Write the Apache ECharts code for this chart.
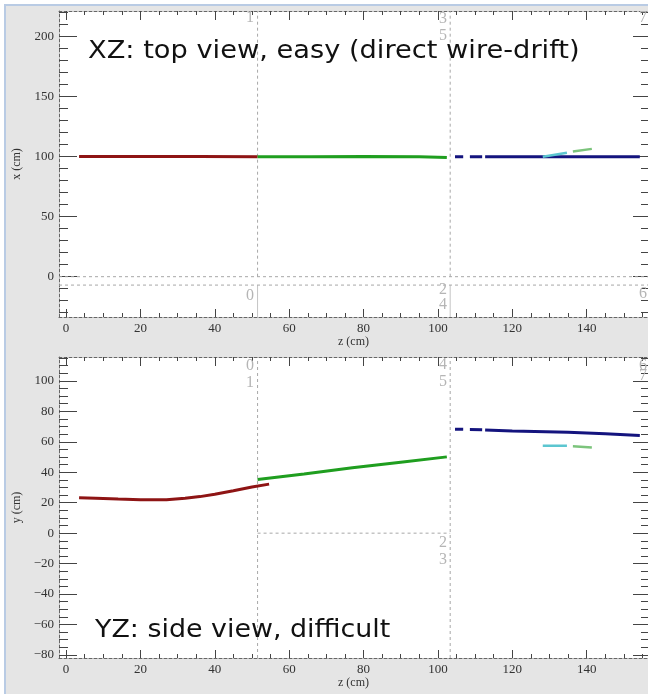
<!DOCTYPE html>
<html><head><meta charset="utf-8">
<script src="https://cdn.jsdelivr.net/npm/echarts@6/dist/echarts.min.js"></script>
<style>html,body{margin:0;padding:0;background:#fff}#c{width:648px;height:694px}</style>
</head><body><div id="c"></div>
<script>
// ---- axis ranges & ticks ----
const zRange = [-1.9, 156.5];
const xRange = [-33.6, 221.4];
const yRange = [-82, 115.7];
const zMajor = [0, 20, 40, 60, 80, 100, 120, 140];
const zMinor = [5,10,15,25,30,35,45,50,55,65,70,75,85,90,95,105,110,115,125,130,135,145,150,155];
const xMajor = [0, 50, 100, 150, 200];
const xMinor = [-30,-20,-10,10,20,30,40,60,70,80,90,110,120,130,140,160,170,180,190,210,220];
const yMajor = [-80,-60,-40,-20,0,20,40,60,80,100];
const yMinor = [-75,-70,-65,-55,-50,-45,-35,-30,-25,-15,-10,-5,5,10,15,25,30,35,45,50,55,65,70,75,85,90,95,105,110,115];

// ---- detector boundaries ----
const tpcZ = [51.5, 103.3];
const xzCathode = [0, -7];
const yzSplit = [0];

// ---- XZ tracks (z, x) ----
const xzRed = [[3.5,100.2],[12,100.1],[24,100.2],[36,100.1],[51.5,100.0]];
const xzGreen = [[51.5,100.0],[66,100.0],[80,100.1],[95,99.9],[100,99.6],[102.4,99.3]];
const xzBlue1 = [[104.6,100],[106.8,100]];
const xzBlue2 = [[108.6,100],[111.9,100]];
const xzBlue3 = [[112.7,100],[130,100],[154.3,100]];
const xzCyan = [[128.2,100.0],[134.7,103.3]];
const xzLtGreen = [[136.3,104.3],[141.4,106.5]];

// ---- YZ tracks (z, y) ----
const yzRed = [[3.5,23.3],[8,23.0],[14,22.4],[20,22.0],[27,22.0],[32,23.0],[36,24.0],[40,25.5],[45,27.8],[50,30.3],[54.6,32.2]];
const yzGreen = [[51.5,35.3],[64,38.8],[77,42.9],[90,46.6],[102.4,50.1]];
const yzBlue1 = [[104.6,68.3],[106.8,68.2]];
const yzBlue2 = [[108.6,68.0],[111.9,67.9]];
const yzBlue3 = [[112.7,67.7],[120,67.1],[135,66.2],[145,65.3],[154.3,64.2]];
const yzCyan = [[128.2,57.4],[134.7,57.4]];
const yzLtGreen = [[136.3,57.0],[141.4,56.3]];

const C = {red:'#8e1414', green:'#1f9e1f', navy:'#14147e', cyan:'#5cc6d0', ltgreen:'#7cc47c'};
const AX = '#666';
const serif = 'Liberation Serif';
const minusFmt = v => String(v).replace('-', '\u2212');

function xAxes(grid, showLabel, name){
  const base = {gridIndex:grid, type:'value', min:zRange[0], max:zRange[1], splitLine:{show:false}};
  return [
    Object.assign({}, base, {position:'bottom', axisLine:{show:true,onZero:false,lineStyle:{color:AX,type:[3,2],width:1}},
      axisTick:{show:true,inside:true,length:8,customValues:zMajor,lineStyle:{color:'#444'}},
      axisLabel:{show:showLabel,customValues:zMajor,margin:5,fontFamily:serif,fontSize:13,color:'#333',formatter:minusFmt},
      name:name,nameLocation:'middle',nameGap:17,nameTextStyle:{fontFamily:serif,fontSize:12,color:'#333'}}),
    Object.assign({}, base, {position:'bottom', axisLine:{show:false,onZero:false},
      axisTick:{show:true,inside:true,length:4,customValues:zMinor,lineStyle:{color:'#444'}},axisLabel:{show:false}}),
    Object.assign({}, base, {position:'top', axisLine:{show:true,onZero:false,lineStyle:{color:AX,type:[3,2],width:1}},
      axisTick:{show:true,inside:true,length:9,customValues:zMajor,lineStyle:{color:'#444'}},axisLabel:{show:false}}),
    Object.assign({}, base, {position:'top', axisLine:{show:false,onZero:false},
      axisTick:{show:true,inside:true,length:4,customValues:zMinor,lineStyle:{color:'#444'}},axisLabel:{show:false}})
  ];
}
function yAxes(grid, rng, major, minor, name){
  const base = {gridIndex:grid, type:'value', min:rng[0], max:rng[1], splitLine:{show:false}};
  return [
    Object.assign({}, base, {position:'left', axisLine:{show:true,onZero:false,lineStyle:{color:AX,type:[3,2],width:1}},
      axisTick:{show:true,inside:true,length:18,customValues:major,lineStyle:{color:'#444'}},
      axisLabel:{show:true,customValues:major,margin:5,fontFamily:serif,fontSize:13,color:'#333',formatter:minusFmt},
      name:name,nameLocation:'middle',nameGap:36,nameTextStyle:{fontFamily:serif,fontSize:12,color:'#333'}}),
    Object.assign({}, base, {position:'left', axisLine:{show:false,onZero:false},
      axisTick:{show:true,inside:true,length:9,customValues:minor,lineStyle:{color:'#444'}},axisLabel:{show:false}}),
    Object.assign({}, base, {position:'right', axisLine:{show:true,onZero:false,lineStyle:{color:AX,type:[3,2],width:1}},
      axisTick:{show:true,inside:true,length:15,customValues:major,lineStyle:{color:'#444'}},axisLabel:{show:false}}),
    Object.assign({}, base, {position:'right', axisLine:{show:false,onZero:false},
      axisTick:{show:true,inside:true,length:7,customValues:minor,lineStyle:{color:'#444'}},axisLabel:{show:false}})
  ];
}

function track(data, color, xi, yi, w){
  return {type:'line', data:data, xAxisIndex:xi, yAxisIndex:yi, showSymbol:false, symbol:'none',
    lineStyle:{color:color,width:w||3}, silent:true, animation:false, z:5};
}
function guide(data, xi, yi, dashed, color){
  return {type:'line', data:data, xAxisIndex:xi, yAxisIndex:yi, symbol:'none', silent:true, animation:false,
    lineStyle:{color:color||'#a8a8a8', width:1, type: dashed ? [3,3] : 'solid'}, z:2};
}

const series = [];
tpcZ.forEach(z => {
  series.push(guide([[z, xzCathode[0]],[z, xRange[1]]], 0, 0, true));
  series.push(guide([[z, xzCathode[1]],[z, xRange[0]]], 0, 0, false, '#c4c4c4'));
});
xzCathode.forEach(x => series.push(guide([[zRange[0], x],[zRange[1], x]], 0, 0, true)));
tpcZ.forEach(z => series.push(guide([[z, yRange[0]],[z, yRange[1]]], 4, 4, true)));
yzSplit.forEach(y => series.push(guide([[tpcZ[0], y],[tpcZ[1], y]], 4, 4, true)));

series.push(track(xzRed, C.red, 0, 0));
series.push(track(xzGreen, C.green, 0, 0));
[xzBlue1, xzBlue2, xzBlue3].forEach(d => series.push(track(d, C.navy, 0, 0)));
series.push(track(xzCyan, C.cyan, 0, 0, 2.5));
series.push(track(xzLtGreen, C.ltgreen, 0, 0, 2.5));
series.push(track(yzRed, C.red, 4, 4));
series.push(track(yzGreen, C.green, 4, 4));
[yzBlue1, yzBlue2, yzBlue3].forEach(d => series.push(track(d, C.navy, 4, 4)));
series.push(track(yzCyan, C.cyan, 4, 4, 2.5));
series.push(track(yzLtGreen, C.ltgreen, 4, 4, 2.5));

const regionLabels = [
  ['1',250,18],['3',443,19],['5',443,36],['7',643,18],['0',250,296],['2',443,290],['4',443,305],['6',643,294],
  ['0',250,366],['1',250,383],['4',443,365],['5',443,382],['2',443,543],['3',443,560],['6',643,366],['7',643,376]
];
const graphics = [
  {type:'rect', shape:{x:5,y:5,width:700,height:720}, style:{fill:'#e5e5e5', stroke:'#b9cbe4', lineWidth:2}, z:-10, silent:true}
];
regionLabels.forEach(l => graphics.push({type:'text', x:l[1], y:l[2], z:3, silent:true,
  style:{text:l[0], font:'16px "Liberation Serif"', fill:'#b5b5b5', align:'center', verticalAlign:'middle'}}));
graphics.push({type:'text', x:88, y:52, scaleX:1.135, z:20, silent:true,
  style:{text:'XZ: top view, easy (direct wire-drift)', font:'24px "DejaVu Sans"', fill:'#111', verticalAlign:'middle'}});
graphics.push({type:'text', x:95, y:631, scaleX:1.12, z:20, silent:true,
  style:{text:'YZ: side view, difficult', font:'24px "DejaVu Sans"', fill:'#111', verticalAlign:'middle'}});

const chart = echarts.init(document.getElementById('c'), null, {renderer:'canvas'});
chart.setOption({
  animation:false,
  backgroundColor:'#ffffff',
  grid:[
    {left:59, top:11, width:589, height:306, show:true, backgroundColor:'#fff', borderWidth:0, containLabel:false},
    {left:59, top:357, width:589, height:301, show:true, backgroundColor:'#fff', borderWidth:0, containLabel:false}
  ],
  xAxis: xAxes(0, true, 'z (cm)').concat(xAxes(1, true, 'z (cm)')),
  yAxis: yAxes(0, xRange, xMajor, xMinor, 'x (cm)').concat(yAxes(1, yRange, yMajor, yMinor, 'y (cm)')),
  graphic: graphics,
  series: series
});
</script></body></html>
